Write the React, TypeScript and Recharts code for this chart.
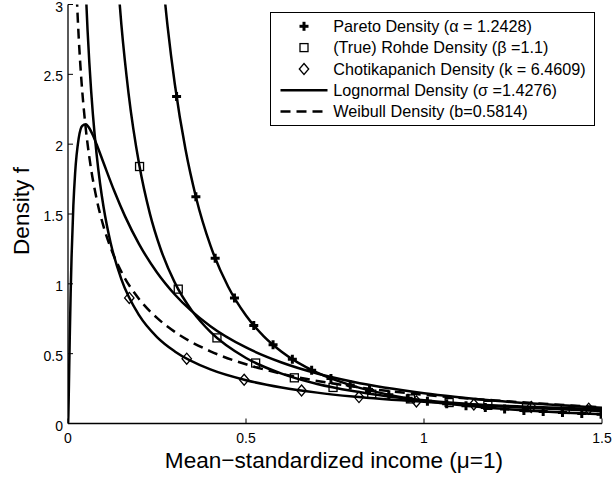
import React from 'react';
import { ComposedChart, Line, Scatter, XAxis, YAxis, Legend } from 'recharts';

const FONT = '"Liberation Sans", Arial, Helvetica, sans-serif';
const TICK_FS = 14;
const LABEL_FS = 22.6;
const LEGEND_FS = 16.2;

const xTicks = [0, 0.5, 1, 1.5];
const xTickLabels = ['0', '0.5', '1', '1.5'];
const yTicks = [0, 0.5, 1, 1.5, 2, 2.5, 3];
const yTickLabels = ['0', '0.5', '1', '1.5', '2', '2.5', '3'];

const xLabel = 'Mean\u2212standardized income (\u03bc=1)';
const yLabel = 'Density f';

const legendLabels = [
  'Pareto Density (\u03b1 = 1.2428)',
  '(True) Rohde Density (\u03b2 =1.1)',
  'Chotikapanich Density (k = 6.4609)',
  'Lognormal Density (\u03c3 =1.4276)',
  'Weibull Density (b=0.5814)',
];

// Pareto
const paretoX = [0.26, 0.28, 0.3, 0.33, 0.36, 0.4, 0.45, 0.5, 0.55, 0.6, 0.7, 0.8, 0.9, 1.0, 1.1, 1.2, 1.3, 1.4, 1.5];
const paretoY = [3.35, 2.838, 2.431, 1.963, 1.615, 1.275, 0.979, 0.773, 0.624, 0.514, 0.3634, 0.2694, 0.2068, 0.1633, 0.1319, 0.1085, 0.0907, 0.0768, 0.0658];
const paretoMarkX = [0.305, 0.3592, 0.4134, 0.4676, 0.5218, 0.576, 0.6302, 0.6844, 0.7386, 0.7928, 0.847, 0.9012, 0.9554, 1.0096, 1.0638, 1.118, 1.1722, 1.2264, 1.2806, 1.3348, 1.389, 1.4432, 1.4974];
const paretoMarkY = [2.342, 1.623, 1.184, 0.898, 0.702, 0.563, 0.46, 0.382, 0.322, 0.275, 0.237, 0.2062, 0.1809, 0.1598, 0.1422, 0.1272, 0.1144, 0.1033, 0.0938, 0.0855, 0.0781, 0.0717, 0.066];

// Rohde
const rohdeX = [0.14, 0.15, 0.17, 0.2, 0.23, 0.26, 0.3, 0.35, 0.4, 0.5, 0.6, 0.7, 0.8, 0.9, 1.0, 1.2, 1.4, 1.5];
const rohdeY = [3.166, 2.854, 2.366, 1.854, 1.503, 1.251, 1.009, 0.801, 0.656, 0.469, 0.357, 0.283, 0.232, 0.194, 0.166, 0.126, 0.1, 0.09];
const rohdeMarkX = [0.201, 0.3097, 0.4184, 0.5271, 0.6358, 0.7445, 0.8532, 0.9619, 1.0706, 1.1793, 1.288, 1.3967];
const rohdeMarkY = [1.84, 0.962, 0.613, 0.433, 0.327, 0.258, 0.21, 0.176, 0.15, 0.13, 0.113, 0.1005];

// Chotikapanich
const chotiX = [0.05, 0.055, 0.06, 0.065, 0.07, 0.08, 0.09, 0.1, 0.12, 0.15, 0.2, 0.25, 0.3, 0.4, 0.5, 0.6, 0.7, 0.8, 1.0, 1.2, 1.5];
const chotiY = [3.096, 2.814, 2.58, 2.381, 2.211, 1.935, 1.72, 1.548, 1.29, 1.032, 0.774, 0.619, 0.516, 0.387, 0.31, 0.258, 0.221, 0.193, 0.155, 0.129, 0.103];
const chotiMarkX = [0.1722, 0.3335, 0.4948, 0.6561, 0.8174, 0.9787, 1.14, 1.3013, 1.4626];
const chotiMarkY = [0.899, 0.464, 0.313, 0.236, 0.189, 0.158, 0.136, 0.119, 0.106];

// Lognormal
const lognX = [0, 0.0005, 0.001, 0.002, 0.003, 0.005, 0.0075, 0.01, 0.015, 0.02, 0.03, 0.04, 0.05, 0.06, 0.07, 0.08, 0.1, 0.13, 0.16, 0.2, 0.25, 0.3, 0.4, 0.5, 0.6, 0.7, 0.8, 1.0, 1.2, 1.5];
const lognY = [0, 0.0135, 0.0564, 0.1857, 0.3346, 0.6253, 0.9384, 1.1913, 1.5569, 1.7928, 2.0412, 2.131, 2.1429, 2.1139, 2.0632, 2.0015, 1.8653, 1.6643, 1.4848, 1.2827, 1.0814, 0.9237, 0.6968, 0.5445, 0.4371, 0.3585, 0.299, 0.2166, 0.1634, 0.1132];

// Weibull
const weibX = [0.02, 0.025, 0.03, 0.035, 0.04, 0.05, 0.06, 0.08, 0.1, 0.12, 0.15, 0.2, 0.25, 0.3, 0.4, 0.5, 0.6, 0.7, 0.8, 1.0, 1.2, 1.5];
const weibY = [3.4, 3.04, 2.769, 2.555, 2.38, 2.109, 1.905, 1.613, 1.409, 1.257, 1.086, 0.89, 0.756, 0.656, 0.517, 0.424, 0.356, 0.305, 0.265, 0.206, 0.165, 0.116];

const zip = (xs: number[], ys: number[]) => xs.map((x, i) => ({ x, y: ys[i] }));

const paretoCurve = zip(paretoX, paretoY);
const paretoMarks = zip(paretoMarkX, paretoMarkY);
const rohdeCurve = zip(rohdeX, rohdeY);
const rohdeMarks = zip(rohdeMarkX, rohdeMarkY);
const chotiCurve = zip(chotiX, chotiY);
const chotiMarks = zip(chotiMarkX, chotiMarkY);
const lognCurve = zip(lognX, lognY);
const weibCurve = zip(weibX, weibY);

const LW = 2.5;
const DASH = '10 6';
const TICK_LEN = 5;

const PlusMarker = ({ cx, cy }: any) => (
  <g>
    <line x1={cx - 4.5} x2={cx + 4.5} y1={cy} y2={cy} stroke="#000" strokeWidth={3} />
    <line x1={cx} x2={cx} y1={cy - 4.5} y2={cy + 4.5} stroke="#000" strokeWidth={3} />
  </g>
);
const SquareMarker = ({ cx, cy }: any) => (
  <rect x={cx - 4} y={cy - 4} width={8} height={8} fill="none" stroke="#000" strokeWidth={1.3} />
);
const DiamondMarker = ({ cx, cy }: any) => (
  <polygon
    points={`${cx},${cy - 5.5} ${cx + 4.7},${cy} ${cx},${cy + 5.5} ${cx - 4.7},${cy}`}
    fill="none"
    stroke="#000"
    strokeWidth={1.3}
  />
);

const labelFor = (ticks: number[], labels: string[], v: number) => {
  const i = ticks.indexOf(v);
  return i >= 0 ? labels[i] : String(v);
};

const BottomTick = (props: any) => {
  const { x, y, payload } = props;
  return (
    <g>
      <line x1={x} x2={x} y1={y} y2={y - TICK_LEN} stroke="#000" strokeWidth={1} />
      <text x={x} y={y + 19.5} textAnchor="middle" fontSize={TICK_FS} fontFamily={FONT} fill="#000">
        {labelFor(xTicks, xTickLabels, payload.value)}
      </text>
    </g>
  );
};
const TopTick = (props: any) => {
  const { x, y } = props;
  return <line x1={x} x2={x} y1={y} y2={y + TICK_LEN} stroke="#000" strokeWidth={1} />;
};
const LeftTick = (props: any) => {
  const { x, y, payload } = props;
  return (
    <g>
      <line x1={x} x2={x + TICK_LEN} y1={y} y2={y} stroke="#000" strokeWidth={1} />
      <text x={x - 5} y={y + 7} textAnchor="end" fontSize={TICK_FS} fontFamily={FONT} fill="#000">
        {labelFor(yTicks, yTickLabels, payload.value)}
      </text>
    </g>
  );
};
const RightTick = (props: any) => {
  const { x, y } = props;
  return <line x1={x} x2={x - TICK_LEN} y1={y} y2={y} stroke="#000" strokeWidth={1} />;
};

const XLabelContent = (props: any) => {
  const vb = props.viewBox || { x: 68, y: 423.5, width: 534, height: 56.5 };
  return (
    <text x={vb.x + vb.width / 2 - 1} y={vb.y + 44.5} textAnchor="middle" fontSize={LABEL_FS} fontFamily={FONT} fill="#000">
      {xLabel}
    </text>
  );
};
const YLabelContent = (props: any) => {
  const vb = props.viewBox || { x: 0, y: 4.5, width: 68, height: 419 };
  const cy = vb.y + vb.height / 2 - 3;
  return (
    <text
      x={0}
      y={0}
      transform={`translate(28.5, ${cy}) rotate(-90)`}
      textAnchor="middle"
      fontSize={LABEL_FS}
      fontFamily={FONT}
      fill="#000"
    >
      {yLabel}
    </text>
  );
};

const LegendBox = () => {
  const w = 325;
  const h = 114;
  const rowY = [14.3, 35.6, 57, 78.3, 99.6];
  const lx1 = 10.5;
  const lx2 = 57.5;
  const mx = (lx1 + lx2) / 2;
  return (
    <svg width={w} height={h} style={{ display: 'block' }}>
      <rect x={0.5} y={0.5} width={w - 1} height={h - 1} fill="#fff" stroke="#000" strokeWidth={1} />
      <PlusMarker cx={mx} cy={rowY[0]} />
      <SquareMarker cx={mx} cy={rowY[1]} />
      <DiamondMarker cx={mx} cy={rowY[2]} />
      <line x1={lx1} x2={lx2} y1={rowY[3]} y2={rowY[3]} stroke="#000" strokeWidth={LW} />
      <line x1={lx1} x2={lx2} y1={rowY[4]} y2={rowY[4]} stroke="#000" strokeWidth={LW} strokeDasharray={DASH} />
      {legendLabels.map((t, i) => (
        <text key={i} x={63.2} y={rowY[i] + 5.8} fontSize={LEGEND_FS} fontFamily={FONT} fill="#000">
          {t}
        </text>
      ))}
    </svg>
  );
};

export default function App() {
  return (
    <div style={{ position: 'absolute', left: 0, top: 0, background: '#fff' }}>
      <ComposedChart width={613} height={480} margin={{ top: 4.5, right: 11, bottom: 0, left: 0 }}>
        <XAxis
          type="number"
          dataKey="x"
          domain={[0, 1.5]}
          ticks={xTicks}
          allowDataOverflow
          interval={0}
          height={56.5}
          tickSize={0}
          tickMargin={0}
          tick={BottomTick}
          axisLine={{ stroke: '#000', strokeWidth: 1.3 }}
          tickLine={false}
          label={{ content: XLabelContent }}
        />
        <XAxis
          xAxisId="top"
          orientation="top"
          type="number"
          dataKey="x"
          domain={[0, 1.5]}
          ticks={xTicks}
          allowDataOverflow
          interval={0}
          height={0}
          tickSize={0}
          tickMargin={0}
          tick={TopTick}
          axisLine={{ stroke: '#000', strokeWidth: 1.3 }}
          tickLine={false}
        />
        <YAxis
          type="number"
          domain={[0, 3]}
          ticks={yTicks}
          allowDataOverflow
          interval={0}
          width={68}
          tickSize={0}
          tickMargin={0}
          tick={LeftTick}
          axisLine={{ stroke: '#000', strokeWidth: 1.3 }}
          tickLine={false}
          label={{ content: YLabelContent }}
        />
        <YAxis
          yAxisId="right"
          orientation="right"
          type="number"
          domain={[0, 3]}
          ticks={yTicks}
          allowDataOverflow
          interval={0}
          width={0}
          tickSize={0}
          tickMargin={0}
          tick={RightTick}
          axisLine={{ stroke: '#000', strokeWidth: 1.3 }}
          tickLine={false}
        />
        <Line data={lognCurve} dataKey="y" type="monotone" stroke="#000" strokeWidth={LW} dot={false} isAnimationActive={false} />
        <Line data={weibCurve} dataKey="y" type="monotone" stroke="#000" strokeWidth={LW} strokeDasharray={DASH} dot={false} isAnimationActive={false} />
        <Line data={chotiCurve} dataKey="y" type="monotone" stroke="#000" strokeWidth={LW} dot={false} isAnimationActive={false} />
        <Line data={rohdeCurve} dataKey="y" type="monotone" stroke="#000" strokeWidth={LW} dot={false} isAnimationActive={false} />
        <Line data={paretoCurve} dataKey="y" type="monotone" stroke="#000" strokeWidth={LW} dot={false} isAnimationActive={false} />
        <Scatter data={chotiMarks} dataKey="y" shape={(p: any) => <DiamondMarker cx={p.cx} cy={p.cy} />} isAnimationActive={false} />
        <Scatter data={rohdeMarks} dataKey="y" shape={(p: any) => <SquareMarker cx={p.cx} cy={p.cy} />} isAnimationActive={false} />
        <Scatter data={paretoMarks} dataKey="y" shape={(p: any) => <PlusMarker cx={p.cx} cy={p.cy} />} isAnimationActive={false} />
        <Legend
          layout="vertical"
          align="center"
          verticalAlign="middle"
          content={() => <LegendBox />}
          wrapperStyle={{ position: 'absolute', left: 269.5, top: 11.7, width: 325, height: 114, margin: 0, padding: 0 }}
        />
      </ComposedChart>
    </div>
  );
}
